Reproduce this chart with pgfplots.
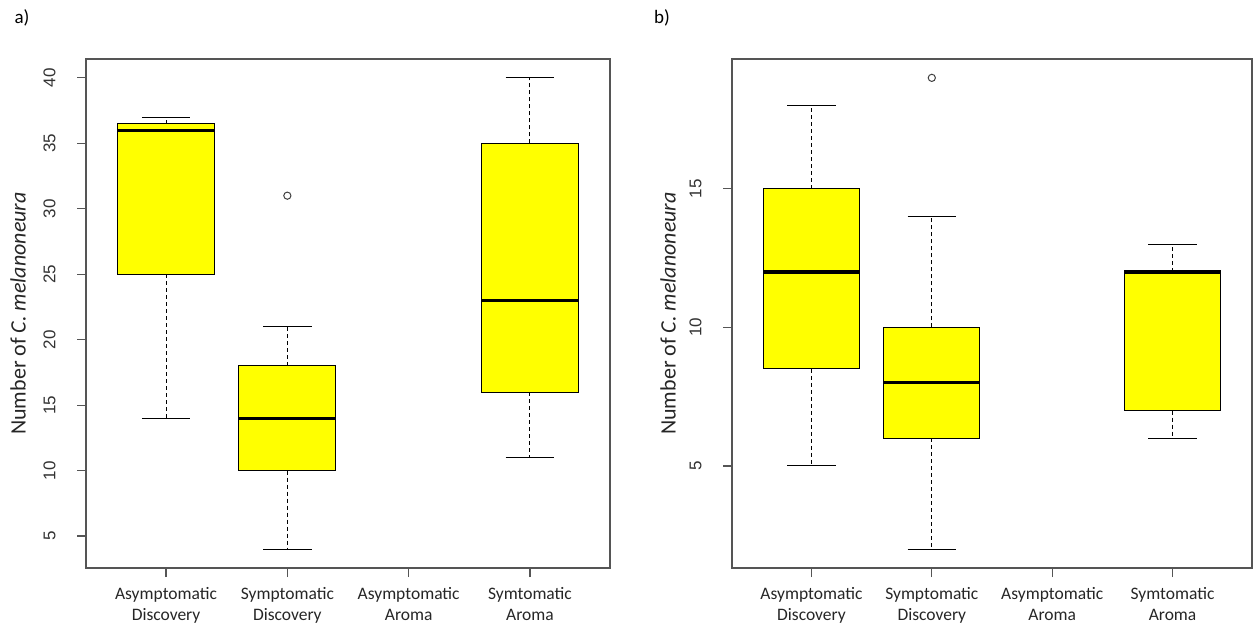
\documentclass[border=0pt]{standalone}
\usepackage{pgfplots}
\pgfplotsset{compat=1.18}
\usepgfplotslibrary{statistics}
\usepackage{fontspec}
\setmainfont{Carlito}
\newfontfamily\arialfont{Liberation Sans}
\definecolor{ryellow}{RGB}{255,255,0}
\definecolor{framec}{RGB}{85,85,85}
\pgfplotsset{
  rbox/.style={
    xmin=0.34, xmax=4.66,
    scale only axis,
    axis line style={framec, line width=0.8pt},
    tick style={framec, line width=0.6pt},
    tick align=outside,
    major tick length=4.5pt,
    xtick pos=bottom, ytick pos=left,
    xtick={1,2,3,4},
    xticklabels={{Asymptomatic\\Discovery},{Symptomatic\\Discovery},{Asymptomatic\\Aroma},{Symtomatic\\Aroma}},
    xticklabel style={align=center, font=\fontsize{8.75}{10.5}\selectfont, inner sep=0pt, text=black!85},
    xticklabel shift=5pt,
    yticklabel style={rotate=90, anchor=south, font=\arialfont\fontsize{8.5}{10}\selectfont, inner sep=0pt, text=black!80},
    yticklabel shift=10.5pt,
    /pgf/number format/assume math mode=true,
    ylabel={Number of \textit{C. melanoneura}},
    boxplot/draw direction=y,
    boxplot/box extend=0.8,
    boxplot/whisker extend=0.4,
    boxplot/every box/.style={draw=black, fill=ryellow, line width=0.5pt},
    boxplot/every median/.style={draw=black, line width=1.6pt},
    boxplot/draw/lower whisker/.code={
      \draw[black, line width=0.5pt, dash pattern=on 2pt off 1.5pt]
        (boxplot cs:\pgfplotsboxplotvalue{lower quartile}) -- (boxplot cs:\pgfplotsboxplotvalue{lower whisker});
      \draw[black, line width=0.5pt]
        (boxplot whisker cs:\pgfplotsboxplotvalue{lower whisker},0) -- (boxplot whisker cs:\pgfplotsboxplotvalue{lower whisker},1);
    },
    boxplot/draw/upper whisker/.code={
      \draw[black, line width=0.5pt, dash pattern=on 2pt off 1.5pt]
        (boxplot cs:\pgfplotsboxplotvalue{upper quartile}) -- (boxplot cs:\pgfplotsboxplotvalue{upper whisker});
      \draw[black, line width=0.5pt]
        (boxplot whisker cs:\pgfplotsboxplotvalue{upper whisker},0) -- (boxplot whisker cs:\pgfplotsboxplotvalue{upper whisker},1);
    },
  },
  outl/.style={black, mark=o, mark size=1.8pt, mark options={black!75, line width=0.5pt, solid}},
}
\begin{document}
\begin{tikzpicture}
\useasboundingbox (0,0) rectangle (626.5pt,314pt);
\node[font=\fontsize{9.5}{11}\selectfont] at (11pt,305pt) {a)};
\node[font=\fontsize{9.5}{11}\selectfont] at (331pt,305pt) {b)};

% Panel a
\begin{axis}[rbox,
  at={(43pt,30pt)}, anchor=south west,
  width=262pt, height=254.5pt,
  ymin=2.56, ymax=41.44,
  ytick={5,10,15,20,25,30,35,40},
  every axis y label/.style={at={(axis description cs:-0.1298,0.5)}, rotate=90, anchor=center, font=\fontsize{11}{13}\selectfont, text=black!85},
]
\addplot[outl, boxplot prepared={draw position=1, lower whisker=14, lower quartile=25, median=36, upper quartile=36.5, upper whisker=37}] coordinates {};
\addplot[outl, boxplot prepared={draw position=2, lower whisker=4, lower quartile=10, median=14, upper quartile=18, upper whisker=21}] table[row sep=\\, y index=0] {data\\ 31\\};
\addplot[outl, boxplot prepared={draw position=4, lower whisker=11, lower quartile=16, median=23, upper quartile=35, upper whisker=40}] coordinates {};
\end{axis}

% Panel b
\begin{axis}[rbox,
  at={(366pt,30pt)}, anchor=south west,
  width=260pt, height=254.5pt,
  ymin=1.32, ymax=19.68,
  ytick={5,10,15},
  every axis y label/.style={at={(axis description cs:-0.1231,0.5)}, rotate=90, anchor=center, font=\fontsize{11}{13}\selectfont, text=black!85},
]
\addplot[outl, boxplot prepared={draw position=1, lower whisker=5, lower quartile=8.5, median=12, upper quartile=15, upper whisker=18}] coordinates {};
\addplot[outl, boxplot prepared={draw position=2, lower whisker=2, lower quartile=6, median=8, upper quartile=10, upper whisker=14}] table[row sep=\\, y index=0] {data\\ 19\\};
\addplot[outl, boxplot prepared={draw position=4, lower whisker=6, lower quartile=7, median=12, upper quartile=12, upper whisker=13}] coordinates {};
\end{axis}
\end{tikzpicture}
\end{document}
